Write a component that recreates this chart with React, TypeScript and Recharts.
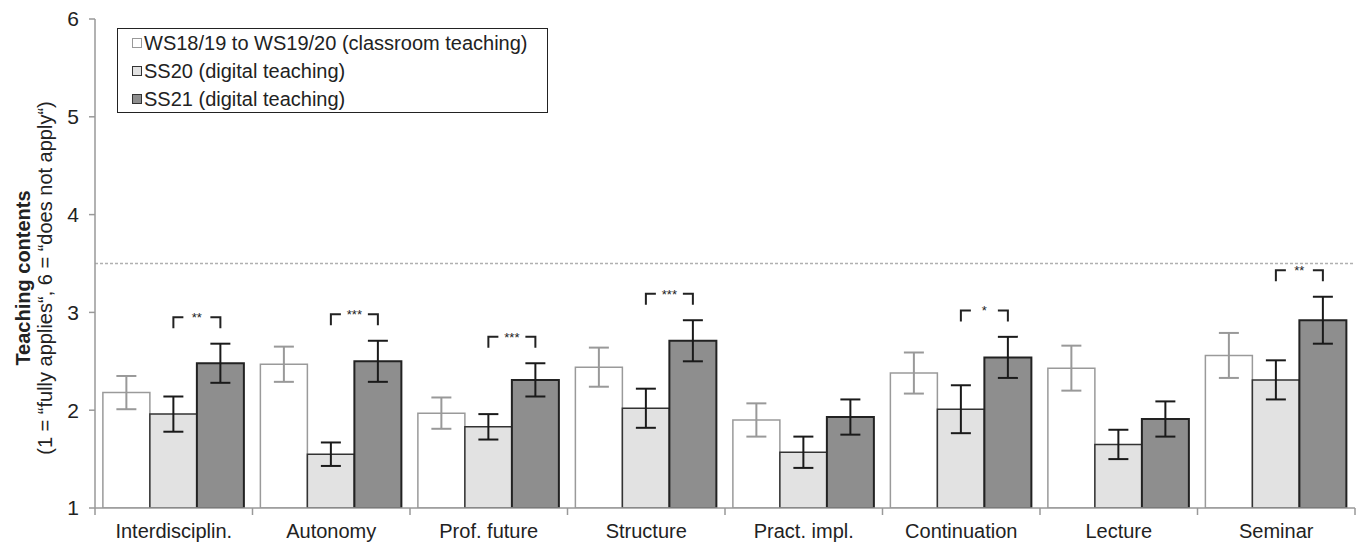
import { BarChart, Bar, XAxis, YAxis, ErrorBar, ReferenceLine } from "recharts";

const categories = [
  "Interdisciplin.",
  "Autonomy",
  "Prof. future",
  "Structure",
  "Pract. impl.",
  "Continuation",
  "Lecture",
  "Seminar",
];
const wsValues = [2.18, 2.47, 1.97, 2.44, 1.9, 2.38, 2.43, 2.56];
const wsErrors = [0.17, 0.18, 0.16, 0.2, 0.17, 0.21, 0.23, 0.23];
const ss20Values = [1.96, 1.55, 1.83, 2.02, 1.57, 2.01, 1.65, 2.31];
const ss20Errors = [0.18, 0.12, 0.13, 0.2, 0.16, 0.245, 0.15, 0.2];
const ss21Values = [2.48, 2.5, 2.31, 2.71, 1.93, 2.54, 1.91, 2.92];
const ss21Errors = [0.2, 0.21, 0.17, 0.21, 0.18, 0.21, 0.18, 0.24];
const significance = ["**", "***", "***", "***", "", "*", "", "**"];
const bracketTops = [2.95, 2.98, 2.75, 3.19, 0, 3.02, 0, 3.43];
const yTicks = [1, 2, 3, 4, 5, 6];
const seriesNames = [
  "WS18/19 to WS19/20 (classroom teaching)",
  "SS20 (digital teaching)",
  "SS21 (digital teaching)",
];

const data = categories.map((name, i) => ({
  name,
  ws: wsValues[i],
  wsErr: wsErrors[i],
  ss20: ss20Values[i],
  ss20Err: ss20Errors[i],
  ss21: ss21Values[i],
  ss21Err: ss21Errors[i],
}));

const FONT = "'Liberation Sans', Arial, sans-serif";
const WIDTH = 1361;
const HEIGHT = 542;
const MARGIN = { top: 19, right: 6, left: 55, bottom: 0 };
const Y_AXIS_W = 40;
const X_AXIS_H = 34;
const PLOT_W = WIDTH - MARGIN.left - MARGIN.right - Y_AXIS_W;
const BAND = PLOT_W / categories.length;

const legendStyles = [
  { fill: "#ffffff", stroke: "#999999" },
  { fill: "#e2e2e2", stroke: "#333333" },
  { fill: "#8e8e8e", stroke: "#333333" },
];

function CategoryTick(props: any) {
  const { x, y, payload, index } = props;
  const last = index === categories.length - 1;
  return (
    <g>
      <line x1={x - BAND / 2} x2={x - BAND / 2} y1={y} y2={y + 7} stroke="#999" strokeWidth={1.5} />
      {last && (
        <line x1={x + BAND / 2} x2={x + BAND / 2} y1={y} y2={y + 7} stroke="#999" strokeWidth={1.5} />
      )}
      <text x={x} y={y + 30} textAnchor="middle" fontSize={20} fill="#222" fontFamily={FONT}>
        {payload.value}
      </text>
    </g>
  );
}

// significance bracket drawn from SS20 centre to SS21 centre
function renderBracket(props: any) {
  const vb = props.viewBox || {};
  const x = Number(props.x ?? vb.x);
  const y = Number(props.y ?? vb.y);
  const width = Number(props.width ?? vb.width);
  const height = Number(props.height ?? vb.height);
  const index = props.index;
  const value = Number(props.value);
  const stars = significance[index];
  if (!stars || !(value > 1)) return null;
  const pxPerUnit = height / (value - 1);
  const top = y + height - (bracketTops[index] - 1) * pxPerUnit;
  const right = x + width / 2;
  const left = x - width / 2;
  return (
    <g key={`br-${index}`}>
      <path
        d={`M${left},${top + 11} V${top} H${left + 10} M${right - 10},${top} H${right} V${top + 11}`}
        fill="none"
        stroke="#222"
        strokeWidth={2}
      />
      <text x={(left + right) / 2} y={top + 5} textAnchor="middle" fontSize={13} fill="#222" fontFamily={FONT}>
        {stars}
      </text>
    </g>
  );
}

function YLabel() {
  const cy = 278;
  return (
    <g>
      <text
        x={23}
        y={cy}
        transform={`rotate(-90, 23, ${cy})`}
        textAnchor="middle"
        dominantBaseline="central"
        fontSize={20}
        fontWeight="bold"
        fill="#222"
        fontFamily={FONT}
      >
        Teaching contents
      </text>
      <text
        x={45}
        y={cy}
        transform={`rotate(-90, 45, ${cy})`}
        textAnchor="middle"
        dominantBaseline="central"
        fontSize={20}
        fill="#222"
        fontFamily={FONT}
      >
        (1 = “fully applies“, 6 = “does not apply“)
      </text>
    </g>
  );
}

export default function App() {
  return (
    <div style={{ position: "absolute", left: 0, top: 0, width: WIDTH, height: HEIGHT, background: "#fff" }}>
      <BarChart
        width={WIDTH}
        height={HEIGHT}
        data={data}
        margin={MARGIN}
        barCategoryGap="5%"
        barGap={0}
      >
        <XAxis
          dataKey="name"
          height={X_AXIS_H}
          tickLine={false}
          tickSize={0}
          tickMargin={0}
          axisLine={{ stroke: "#999", strokeWidth: 1.5 }}
          tick={<CategoryTick />}
          interval={0}
        />
        <YAxis
          width={Y_AXIS_W}
          domain={[1, 6]}
          ticks={yTicks}
          allowDataOverflow
          axisLine={{ stroke: "#999", strokeWidth: 1.5 }}
          tickLine={{ stroke: "#999", strokeWidth: 1.5 }}
          tickSize={6}
          tickMargin={10}
          tick={{ fontSize: 21, fill: "#222", fontFamily: FONT }}
          label={<YLabel />}
        />
        <ReferenceLine y={3.5} stroke="#b0b0b0" strokeWidth={1.5} strokeDasharray="3 2" />
        <Bar dataKey="ws" fill="#ffffff" stroke="#9a9a9a" strokeWidth={1.5} isAnimationActive={false}>
          <ErrorBar dataKey="wsErr" width={10} stroke="#999" strokeWidth={2} />
        </Bar>
        <Bar dataKey="ss20" fill="#e2e2e2" stroke="#333" strokeWidth={1.5} isAnimationActive={false}>
          <ErrorBar dataKey="ss20Err" width={10} stroke="#1a1a1a" strokeWidth={2} />
        </Bar>
        <Bar
          dataKey="ss21"
          fill="#8e8e8e"
          stroke="#222"
          strokeWidth={2}
          isAnimationActive={false}
          label={renderBracket}
        >
          <ErrorBar dataKey="ss21Err" width={10} stroke="#1a1a1a" strokeWidth={2} />
        </Bar>
      </BarChart>

      {/* legend box */}
      <div
        style={{
          position: "absolute",
          left: 117,
          top: 28,
          width: 431,
          height: 85,
          boxSizing: "border-box",
          border: "1.5px solid #222",
          background: "#fff",
          fontFamily: FONT,
          fontSize: 20,
          color: "#222",
          paddingLeft: 14,
        }}
      >
        {seriesNames.map((name, i) => (
          <div key={name} style={{ display: "flex", alignItems: "center", height: 28 }}>
            <span
              style={{
                display: "inline-block",
                width: 8,
                height: 8,
                background: legendStyles[i].fill,
                border: `1px solid ${legendStyles[i].stroke}`,
                marginRight: 2,
              }}
            />
            <span style={{ lineHeight: "28px", whiteSpace: "nowrap" }}>{name}</span>
          </div>
        ))}
      </div>
    </div>
  );
}
